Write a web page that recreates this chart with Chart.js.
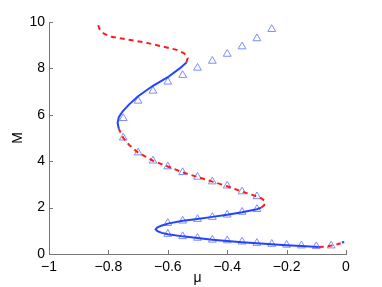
<!DOCTYPE html>
<html>
<head>
<meta charset="utf-8">
<script src="https://cdn.jsdelivr.net/npm/chart.js@4.4.0/dist/chart.umd.min.js"></script>
<style>
  html, body { margin: 0; padding: 0; background: #fff; }
  #wrap { width: 382px; height: 287px; position: relative; }
</style>
</head>
<body>
<div id="wrap"><canvas id="chart"></canvas></div>
<script>
// stable / unstable branches of the M(mu) curve
var blueLowMu = [-0.092, -0.15, -0.2, -0.25, -0.3, -0.35, -0.4, -0.45, -0.5, -0.55, -0.6, -0.62, -0.635, -0.641, -0.636, -0.622, -0.6, -0.55, -0.5, -0.45, -0.4, -0.35, -0.3, -0.285];
var blueLowM  = [0.30, 0.34, 0.38, 0.42, 0.46, 0.51, 0.56, 0.61, 0.69, 0.76, 0.85, 0.91, 0.98, 1.06, 1.14, 1.22, 1.31, 1.43, 1.51, 1.60, 1.69, 1.80, 1.93, 2.00];

var redMidMu = [-0.285, -0.276, -0.272, -0.275, -0.285, -0.3, -0.35, -0.4, -0.45, -0.5, -0.55, -0.6, -0.65, -0.7, -0.73, -0.75, -0.765];
var redMidM  = [2.00, 2.10, 2.20, 2.30, 2.40, 2.48, 2.69, 2.92, 3.12, 3.32, 3.52, 3.77, 4.02, 4.37, 4.70, 5.00, 5.40];

var blueUpMu = [-0.765, -0.769, -0.765, -0.752, -0.73, -0.70, -0.65, -0.60, -0.56, -0.537];
var blueUpM  = [5.40, 5.65, 5.90, 6.15, 6.45, 6.80, 7.25, 7.62, 8.00, 8.25];

var redTopMu = [-0.537, -0.533, -0.545, -0.57, -0.61, -0.67, -0.75, -0.79, -0.815, -0.83, -0.838];
var redTopM  = [8.25, 8.45, 8.65, 8.80, 8.92, 9.10, 9.28, 9.36, 9.50, 9.70, 10.0];

var redTailMu = [-0.092, -0.06, -0.035, -0.018];
var redTailM  = [0.30, 0.33, 0.40, 0.46];
var blueTailMu = [-0.014, -0.006];
var blueTailM  = [0.50, 0.52];

// triangle markers
var triMu = [-0.75, -0.75, -0.7, -0.65, -0.6, -0.55, -0.5, -0.45, -0.4, -0.35, -0.3, -0.25,
             -0.7, -0.65, -0.6, -0.55, -0.5, -0.45, -0.4, -0.35, -0.3,
             -0.6, -0.55, -0.5, -0.45, -0.4, -0.35, -0.3,
             -0.6, -0.55, -0.5, -0.45, -0.4, -0.35, -0.3, -0.25, -0.2, -0.15, -0.1, -0.05];
var triM  = [5.01, 5.85, 6.60, 7.03, 7.42, 7.71, 8.02, 8.32, 8.62, 8.94, 9.29, 9.69,
             4.37, 4.02, 3.77, 3.52, 3.32, 3.12, 2.94, 2.69, 2.48,
             1.33, 1.43, 1.50, 1.59, 1.69, 1.81, 1.93,
             0.86, 0.76, 0.69, 0.61, 0.58, 0.53, 0.47, 0.43, 0.39, 0.36, 0.33, 0.36];

var xTicks = [-1, -0.8, -0.6, -0.4, -0.2, 0];
var yTicks = [0, 2, 4, 6, 8, 10];

function pts(xs, ys) {
    var out = [];
    for (var i = 0; i < xs.length; i++) out.push({x: xs[i], y: ys[i]});
    return out;
}

var BLUE = '#2243ff';
var RED = '#ff1a1a';

function solid(xs, ys) {
    return { data: pts(xs, ys), showLine: true, borderColor: BLUE, borderWidth: 2, pointRadius: 0, fill: false };
}
function dashed(xs, ys) {
    return { data: pts(xs, ys), showLine: true, borderColor: RED, borderWidth: 2, borderDash: [5, 4], pointRadius: 0, fill: false };
}

// MATLAB style inward tick marks
var innerTicks = {
    id: 'innerTicks',
    afterDraw: function (chart) {
        var ctx = chart.ctx, a = chart.chartArea;
        var xs = chart.scales.x, ys = chart.scales.y;
        ctx.save();
        ctx.strokeStyle = '#777';
        ctx.lineWidth = 1;
        ctx.beginPath();
        xTicks.forEach(function (v) {
            var p = Math.round(xs.getPixelForValue(v)) + 0.5;
            ctx.moveTo(p, a.bottom);
            ctx.lineTo(p, a.bottom - 4);
        });
        yTicks.forEach(function (v) {
            var p = Math.round(ys.getPixelForValue(v)) + 0.5;
            ctx.moveTo(a.left, p);
            ctx.lineTo(a.left + 4, p);
        });
        ctx.stroke();
        ctx.restore();
    }
};

var font = { family: '"Liberation Sans", Arial, sans-serif', size: 14 };

new Chart(document.getElementById('chart').getContext('2d'), {
    type: 'scatter',
    data: {
        datasets: [
            solid(blueLowMu, blueLowM),
            dashed(redMidMu, redMidM),
            solid(blueUpMu, blueUpM),
            dashed(redTopMu, redTopM),
            dashed(redTailMu, redTailM),
            solid(blueTailMu, blueTailM),
            {
                data: pts(triMu, triM),
                showLine: false,
                pointStyle: 'triangle',
                pointRadius: 4.5,
                borderWidth: 1,
                pointBorderColor: '#7d8cff',
                pointBackgroundColor: 'rgba(0,0,0,0)'
            }
        ]
    },
    options: {
        responsive: true,
        maintainAspectRatio: false,
        animation: false,
        layout: { padding: { left: 0, right: 36, top: 22, bottom: 0 } },
        plugins: { legend: { display: false }, tooltip: { enabled: false } },
        scales: {
            x: {
                type: 'linear', min: -1, max: 0,
                afterBuildTicks: function (s) { s.ticks = xTicks.map(function (v) { return {value: v}; }); },
                afterFit: function (s) { s.height = 33; },
                ticks: {
                    color: '#000', font: font, padding: 5, maxRotation: 0,
                    callback: function (v) { return v < 0 ? '\u2212' + String(-v) : String(v); }
                },
                grid: { display: true, drawOnChartArea: false, drawTicks: false },
                border: { display: true, color: '#777', width: 1 },
                title: { display: true, text: 'μ', color: '#000', font: font, padding: { top: 3, bottom: 0 } }
            },
            y: {
                type: 'linear', min: 0, max: 10,
                afterBuildTicks: function (s) { s.ticks = yTicks.map(function (v) { return {value: v}; }); },
                afterFit: function (s) { s.width = 49; },
                ticks: { color: '#000', font: font, padding: 4 },
                grid: { display: true, drawOnChartArea: false, drawTicks: false },
                border: { display: true, color: '#777', width: 1 },
                title: { display: true, text: 'M', color: '#000', font: font, padding: { top: 10, bottom: 0 } }
            }
        }
    },
    plugins: [innerTicks]
});
</script>
</body>
</html>
